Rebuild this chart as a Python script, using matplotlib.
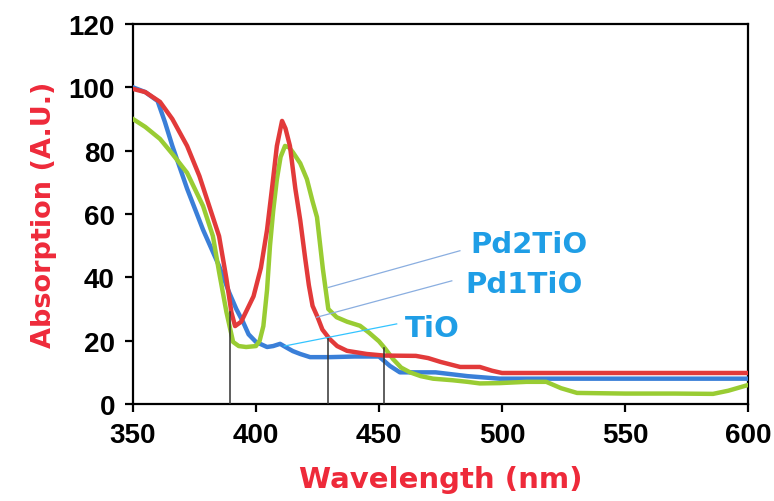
import matplotlib.pyplot as plt

# TiO (blue)
wl_tio = [350, 355, 360, 363, 366, 372, 378.5, 385, 389, 392, 394.7, 397, 400, 404.5,
          407, 409.8, 412, 415, 418, 422, 430, 440, 450, 454.5, 458.5, 473, 486, 499, 600]
abs_tio = [100, 98.5, 95.7, 89, 81.5, 68, 55, 43.6, 35.4, 30, 26, 22, 19.6, 18,
           18.3, 19, 18, 16.7, 15.8, 14.8, 14.8, 15, 15, 12, 10, 10, 8.8, 8, 8]

# Pd1TiO (red)
wl_pd1 = [350, 355, 361, 366, 372, 377, 381, 385, 388, 390, 391.5, 394, 399, 402, 404.5,
          406.5, 408.5, 410.6, 412, 413.8, 416, 418, 420, 421.5, 423, 425, 427, 430, 433,
          437, 445, 452, 465, 470, 475, 483, 491, 496, 500, 600]
abs_pd1 = [99.5, 98.5, 95.4, 90, 81.5, 72, 62.5, 53, 39.5, 29, 24.6, 26, 34, 43, 55,
           68, 81.5, 89.4, 87, 81.5, 68, 58, 46, 37.5, 31, 27.5, 23.5, 20.5, 18.3,
           16.8, 15.8, 15.3, 15.2, 14.5, 13.3, 11.7, 11.7, 10.5, 9.8, 9.8]

# Pd2TiO (green)
wl_pd2 = [350, 355, 361, 366, 372, 378.5, 382.5, 385, 388, 390.7, 393, 396, 400, 401.5,
          403, 404.5, 405.7, 407, 408.5, 410, 411.8, 413.5, 415, 418, 420.7, 423, 424.8,
          427.2, 429.4, 432.8, 437, 442.3, 446, 450, 452.5, 455.7, 459, 462.6, 467, 472,
          480, 486, 491, 499, 510, 518, 524, 530.5, 550, 570, 585.8, 592, 600]
abs_pd2 = [90, 87.5, 83.7, 79, 73, 62.5, 53, 41.7, 29, 19.6, 18.3, 18, 18.3, 20,
           24.6, 36, 50, 61, 71, 78, 81.5, 81, 79.5, 76, 71, 64, 59,
           42.6, 30, 27.4, 26, 24.7, 22.5, 19.8, 17.5, 14.2, 11.5, 10, 8.8, 8,
           7.5, 7, 6.5, 6.6, 7, 7, 5, 3.5, 3.3, 3.3, 3.2, 4.2, 6]

# marker lines (wavelength, top)
marks_x = [389.5, 429.4, 452]
marks_top = [29, 21, 17.7]

# callout lines: (x0, y0, x1, y1)
call_pd2 = [429.4, 36.8, 482.9, 48.4]
call_pd1 = [424.7, 27.4, 479.6, 38.9]
call_tio = [411.5, 18.3, 457.2, 25.3]

fig = plt.figure(figsize=(7.74, 5.02), dpi=100)
ax = fig.add_axes([0.1718, 0.1932, 0.7946, 0.757])

ax.plot(wl_tio, abs_tio, color="#3a7fd8", lw=3.2, solid_joinstyle="round", zorder=3)
ax.plot(wl_pd2, abs_pd2, color="#99cc33", lw=3.2, solid_joinstyle="round", zorder=4)
ax.plot(wl_pd1, abs_pd1, color="#e23a3a", lw=3.2, solid_joinstyle="round", zorder=5)

for x, top in zip(marks_x, marks_top):
    ax.plot([x, x], [0, top], color="#333333", lw=1.1, zorder=6)

ax.plot(call_pd2[0::2], call_pd2[1::2], color="#8aaee0", lw=0.9, zorder=7)
ax.plot(call_pd1[0::2], call_pd1[1::2], color="#8aaee0", lw=0.9, zorder=7)
ax.plot(call_tio[0::2], call_tio[1::2], color="#33c4ff", lw=0.9, zorder=7)

lbl = dict(color="#1f9ee6", fontsize=21, fontweight="bold", family="DejaVu Sans",
           va="center", ha="left")
ax.text(487, 50.5, "Pd2TiO", **lbl)
ax.text(485, 38.0, "Pd1TiO", **lbl)
ax.text(460.6, 24.0, "TiO", **lbl)

ax.set_xlim(350, 600)
ax.set_ylim(0, 120)
ax.set_xticks([350, 400, 450, 500, 550, 600])
ax.set_yticks([0, 20, 40, 60, 80, 100, 120])
for s in ax.spines.values():
    s.set_linewidth(1.6)
ax.tick_params(direction="out", length=6, width=1.6, labelsize=20, pad=7)
for t in ax.get_xticklabels() + ax.get_yticklabels():
    t.set_family("Liberation Sans")
    t.set_fontweight("bold")

ax.set_xlabel("Wavelength (nm)", color="#ee2a3a", fontsize=21, fontweight="bold",
              family="DejaVu Sans", labelpad=12)
ax.set_ylabel("Absorption (A.U.)", color="#ee2a3a", fontsize=19.5, fontweight="bold",
              family="DejaVu Sans", labelpad=8)

fig.savefig("out.png", dpi=100)
